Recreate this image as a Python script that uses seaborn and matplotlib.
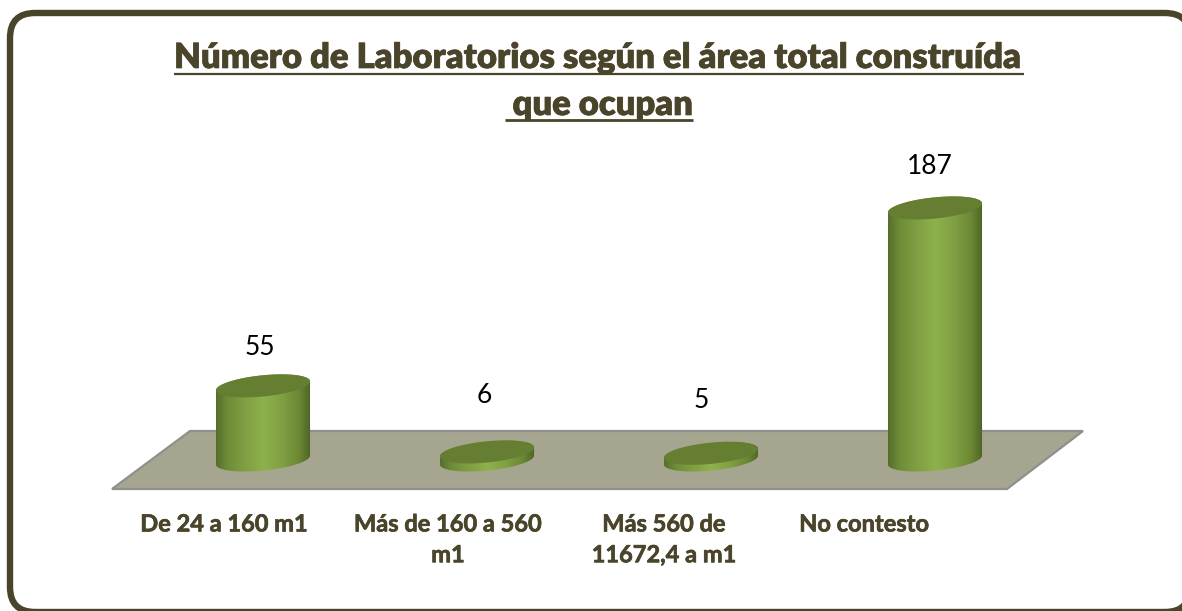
import numpy as np
import matplotlib

matplotlib.use("Agg")
import matplotlib.pyplot as plt
import matplotlib.patheffects as pe
import seaborn as sns
from matplotlib.colors import LinearSegmentedColormap
from matplotlib.patches import FancyBboxPatch, PathPatch, Polygon
from matplotlib.path import Path
from matplotlib.transforms import ScaledTranslation

categories = ["De 24 a 160 m1", "Más de 160 a 560\nm1", "Más 560 de\n11672,4 a m1", "No contesto"]
values = [55, 6, 5, 187]
title_lines = ["Número de Laboratorios según el área total construída", " que ocupan"]

W, H = 1182, 611
DARK = "#4a452a"
TOP = "#657e32"
body_cmap = LinearSegmentedColormap.from_list(
    "cyl",
    [(0, "#566f2b"), (0.12, "#6f8c38"), (0.3, "#7f9f42"), (0.5, "#8eb14c"),
     (0.7, "#7fa042"), (0.88, "#6b8734"), (1, "#4d6426")],
)

sns.set_theme(style="white")
plt.rcParams["font.family"] = ["Lato", "DejaVu Sans"]

fig = plt.figure(figsize=(W / 100, H / 100), dpi=100, facecolor="white")
# the original's bold is a bit heavier than Lato's
heavier = [pe.withStroke(linewidth=0.5, foreground=DARK)]

# background layer in pixel coordinates: frame and floor
bg = fig.add_axes([0, 0, 1, 1], zorder=0)
bg.set_xlim(0, W)
bg.set_ylim(H, 0)
bg.axis("off")
bg.add_patch(FancyBboxPatch((35, 38), 1130, 549, boxstyle="round,pad=25,rounding_size=25",
                            fc="white", ec=DARK, lw=4.6, clip_on=False))
bg.add_patch(Polygon([(190, 431), (1083, 431), (1007, 489), (112, 489)], closed=True,
                     fc="#a6a590", ec="#8f8f8c", lw=1.6))

# main axes: 1.348 px per unit, zero at y=460
px_unit = 1.348
y_low, y_high = -25, 200
left, right = 151, 1047
top_px = 460 - y_high * px_unit
bottom_px = 460 - y_low * px_unit
ax = fig.add_axes([left / W, 1 - bottom_px / H, (right - left) / W, (bottom_px - top_px) / H], zorder=1)
ax.patch.set_alpha(0)

sns.barplot(x=categories, y=values, color="#8eb14c", width=0.42, ax=ax)
ax.set_xlim(-0.5, 3.5)
ax.set_ylim(y_low, y_high)
sns.despine(ax=ax, left=True, bottom=True)
ax.set_yticks([])
ax.set_xlabel("")
ax.set_ylabel("")
ax.tick_params(axis="x", length=0, pad=13.5)

# tick labels sit left of the bars in the original
label_shift = [-39, -39, -47, -71]
for lab, dx in zip(ax.get_xticklabels(), label_shift):
    lab.set_fontsize(17)
    lab.set_fontweight("bold")
    lab.set_color(DARK)
    lab.set_linespacing(1.41)
    lab.set_path_effects(heavier)
    lab.set_transform(lab.get_transform() + ScaledTranslation(dx / 100, 0, fig.dpi_scale_trans))


def ellipse_pts(cx, cy, a, tilt, b, t):
    return np.column_stack([cx + a * np.cos(t), cy + tilt * np.cos(t) + b * np.sin(t)])


# turn each bar into a tilted cylinder
tilt = 4.5 / px_unit
minor = 10.6 / px_unit
for bar in ax.patches:
    x0, w, h = bar.get_x(), bar.get_width(), bar.get_height()
    cx, a = x0 + w / 2, w / 2
    bar.set_visible(False)
    lower = ellipse_pts(cx, 0, a, tilt, minor, np.linspace(np.pi, 2 * np.pi, 60))
    upper = ellipse_pts(cx, h, a, tilt, minor, np.linspace(0, np.pi, 60))
    outline = np.vstack([lower, upper, lower[:1]])
    clip = PathPatch(Path(outline), transform=ax.transData, fc="none", ec="none")
    ax.add_patch(clip)
    im = ax.imshow(np.linspace(0, 1, 200)[None, :], cmap=body_cmap, aspect="auto", zorder=3,
                   extent=(x0, x0 + w, -minor - tilt - 1, h + minor + tilt + 1), interpolation="bilinear")
    im.set_clip_path(clip)
    cap = ellipse_pts(cx, h, a, tilt, minor, np.linspace(0, 2 * np.pi, 120))
    ax.add_patch(Polygon(cap, closed=True, fc=TOP, ec="none", zorder=4))
ax.set_xlim(-0.5, 3.5)
ax.set_ylim(y_low, y_high)

# value labels, offsets in px from the cylinder top
label_dx = [-3, -3, -10, -5]
label_dy = [38, 56, 53, 41]
for i, v in enumerate(values):
    ax.annotate(str(v), (i, v), xytext=(label_dx[i] * 0.72, label_dy[i] * 0.72), textcoords="offset points",
                ha="center", va="center", fontsize=19, color="black")

# title, underlined by hand
t1 = bg.text(599, 68, title_lines[0], ha="center", va="baseline", fontsize=24.9, fontweight=800, color=DARK,
             path_effects=heavier)
t2 = bg.text(599, 115, title_lines[1], ha="center", va="baseline", fontsize=24.9, fontweight=800, color=DARK,
             path_effects=heavier)
fig.canvas.draw()
r = fig.canvas.get_renderer()
for t, y, lw in [(t1, 74, 1.6), (t2, 120, 2.0)]:
    ext = t.get_window_extent(r)
    bg.plot([ext.x0, ext.x1], [y, y], color=DARK, lw=lw, solid_capstyle="butt")

fig.savefig("out.png", dpi=100)
